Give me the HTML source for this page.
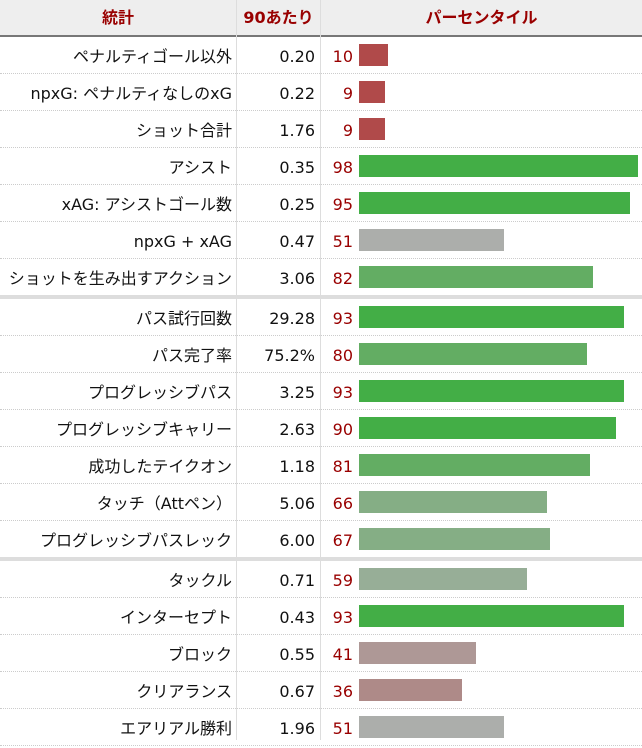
<!DOCTYPE html>
<html><head><meta charset="utf-8">
<style>
body{margin:0;width:642px;height:740px;overflow:hidden;background:#fff;font-family:"DejaVu Sans","Noto Sans CJK JP",sans-serif;position:relative}
.hdr{position:absolute;top:0;left:0;width:642px;height:35px;background:#eeeeee;border-bottom:2px solid #777}
.hc{position:absolute;top:0;height:35px;line-height:36px;text-align:center;color:#990000;font-weight:bold;font-size:16px}
.vl{position:absolute;top:0;width:1px;height:740px;background:#dddddd}
.row{position:absolute;left:0;width:642px;height:37px;border-bottom:1px dotted #cccccc;box-sizing:border-box}
.lab{position:absolute;right:410px;top:0;line-height:39px;font-size:16px;color:#111;white-space:nowrap}
.val{position:absolute;right:327px;top:0;line-height:39px;font-size:16px;color:#111}
.pct{position:absolute;right:289px;top:0;line-height:39px;font-size:16px;color:#990000}
.bar{position:absolute;left:359px;top:7px;height:22px}
.sep{position:absolute;left:0;width:642px;height:4px;background:#dddddd}
</style></head><body>
<div class="hdr">
<div class="hc" style="left:0;width:236px">統計</div>
<div class="hc" style="left:237px;width:83px">90あたり</div>
<div class="hc" style="left:321px;width:321px">パーセンタイル</div>
</div>
<div class="vl" style="left:236px"></div>
<div class="vl" style="left:320px"></div>
<div id="body"></div>
<script>
const labels=["ペナルティゴール以外","npxG: ペナルティなしのxG","ショット合計","アシスト","xAG: アシストゴール数","npxG + xAG","ショットを生み出すアクション","パス試行回数","パス完了率","プログレッシブパス","プログレッシブキャリー","成功したテイクオン","タッチ（Attペン）","プログレッシブパスレック","タックル","インターセプト","ブロック","クリアランス","エアリアル勝利"];
const values=["0.20","0.22","1.76","0.35","0.25","0.47","3.06","29.28","75.2%","3.25","2.63","1.18","5.06","6.00","0.71","0.43","0.55","0.67","1.96"];
const percentiles=[10,9,9,98,95,51,82,93,80,93,90,81,66,67,59,93,41,36,51];
const groups=[7,7,5];
function col(p){
 if(p>=90)return"#43ae46";if(p>=80)return"#63ad63";if(p>=60)return"#85ae85";if(p>=55)return"#97ae97";
 if(p>=45)return"#acaeab";if(p>=38)return"#ae9896";if(p>=20)return"#ae8a88";return"#b04a4a";}
function xw(p){return p*2.85;}
const body=document.getElementById('body');
let y=37,i=0;
groups.forEach((g,gi)=>{
 if(gi>0){const s=document.createElement('div');s.className='sep';s.style.top=(y-1)+'px';
 
 
 body.appendChild(s);y+=3;}
 for(let k=0;k<g;k++,i++){
  const r=document.createElement('div');r.className='row';r.style.top=y+'px';
  
  
  const l=document.createElement('div');l.className='lab';l.textContent=labels[i];
  
  
  const v=document.createElement('div');v.className='val';v.textContent=values[i];
  
  
  const p=document.createElement('div');p.className='pct';p.textContent=percentiles[i];
  
  
  const b=document.createElement('div');b.className='bar';b.style.width=xw(percentiles[i])+'px';b.style.background=col(percentiles[i]);
  
  
  r.append(l,v,p,b);body.appendChild(r);y+=37;
 }
});
</script>
</body></html>
